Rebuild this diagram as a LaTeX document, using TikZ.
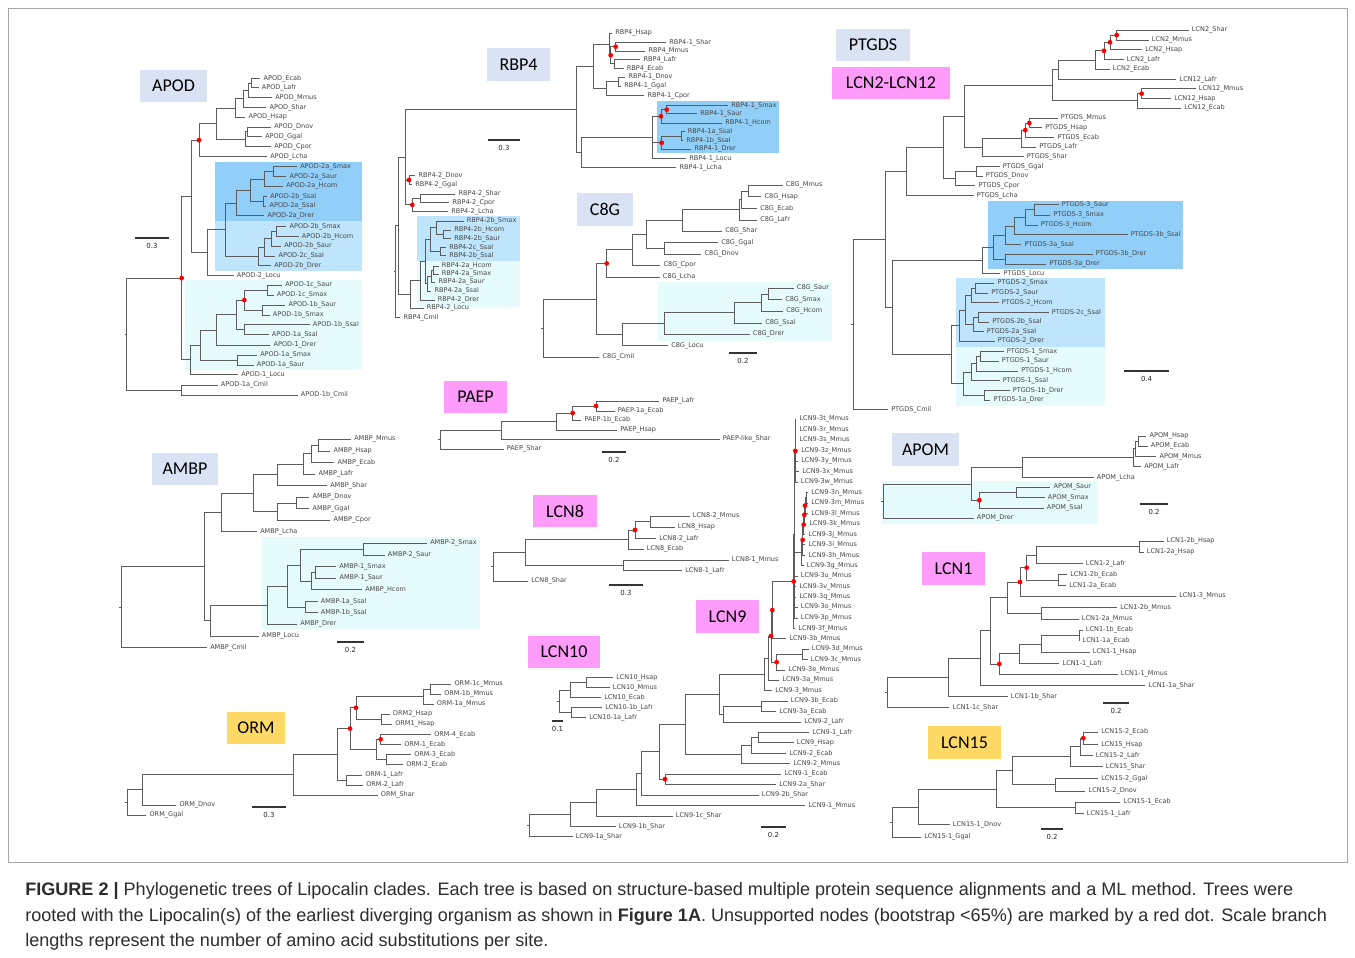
\documentclass[tikz,border=0pt]{standalone}
\usepackage{fontspec}
\setmainfont{Liberation Sans}
\newfontfamily\labfont{DejaVu Sans}
\newfontfamily\titfont{Carlito}
\usetikzlibrary{calc}
\definecolor{brc}{RGB}{92,92,92}
\definecolor{labc}{RGB}{70,70,70}
\definecolor{tblue}{RGB}{218,227,243}
\definecolor{tpink}{RGB}{255,155,250}
\definecolor{tyel}{RGB}{255,217,102}
\definecolor{hdark}{RGB}{145,207,248}
\definecolor{hmid}{RGB}{190,229,251}
\definecolor{hcyan}{RGB}{230,251,251}
\definecolor{capc}{RGB}{45,45,45}
\tikzset{
 lab/.style={anchor=west,inner sep=0pt,font=\labfont\fontsize{4.9}{5.5}\selectfont,text=labc},
 brn/.style={draw=brc,line width=0.55pt},
 rdot/.style={circle,fill=red,inner sep=0pt,minimum size=3.6pt},
 tit/.style={inner sep=0pt,font=\titfont\fontsize{13.5}{15}\selectfont,text=black},
 sbar/.style={draw=black!80,line width=0.9pt},
 sbt/.style={inner sep=0pt,font=\labfont\fontsize{5.2}{6}\selectfont,text=black!85},
 captext/.style={anchor=base west,inner sep=0pt,font=\fontsize{13.55}{15}\selectfont,text=capc}
}
\newcommand\LF[4]{\coordinate (#1) at ({#2-9},#3); \node[lab] (#1t) at (#2,#3) {#4};}
\newcommand\ND[3]{%
 \foreach \chn [count=\cnt] in {#3}{\ifnum\cnt=1 \xdef\ndfirst{\chn}\fi\xdef\ndlast{\chn}}%
 \coordinate (ndtmp) at ($(\ndfirst)!0.5!(\ndlast)$);%
 \coordinate (#1) at (#2,0 |- ndtmp);%
 \foreach \chn in {#3}{\draw[brn] (#1) |- (\chn);}}
\newcommand\RD[1]{\node[rdot] (#1d) at (#1) {};}
\newcommand\ST[1]{\draw[brn] (#1) -- ++(-6,0);}
\newcommand\TB[7]{\fill[#6] (#2,#3) rectangle (#4,#5); \node[tit] (#1) at ($(#2,#3)!0.5!(#4,#5)$) {#7};}
\newcommand\SB[5]{\coordinate (#1a) at (#2,#4); \coordinate (#1b) at (#3,#4); \draw[sbar] (#1a) -- (#1b); \node[sbt] (#1) at ({(#2+#3)/2},{#4+8}) {#5};}
\begin{document}
\begin{tikzpicture}[x=0.75pt,y=-0.75pt]
\useasboundingbox (0,0) rectangle (1355,957);
\fill[white] (0,0) rectangle (1355,957);
\draw[black!35,line width=0.5pt] (8,8) rectangle (1347,862);

% ---------------- APOD
\begin{scope}[shift={(130,65)},scale=1/3]
\fill[hdark] (255,290) rectangle (697,468);
\fill[hmid] (255,468) rectangle (697,617);
\fill[hcyan] (165,645) rectangle (697,915);
\LF{ap1}{400}{40}{APOD\_Ecab}
\LF{ap2}{395}{68}{APOD\_Lafr}
\LF{ap3}{435}{98}{APOD\_Mmus}
\LF{ap4}{418}{127}{APOD\_Shar}
\LF{ap5}{355}{157}{APOD\_Hsap}
\LF{ap6}{432}{186}{APOD\_Dnov}
\LF{ap7}{405}{215}{APOD\_Ggal}
\LF{ap8}{432}{245}{APOD\_Cpor}
\LF{ap9}{420}{275}{APOD\_Lcha}
\LF{ap10}{510}{305}{APOD-2a\_Smax}
\LF{ap11}{478}{335}{APOD-2a\_Saur}
\LF{ap12}{468}{364}{APOD-2a\_Hcom}
\LF{ap13}{420}{394}{APOD-2b\_Ssal}
\LF{ap14}{418}{423}{APOD-2a\_Ssal}
\LF{ap15}{412}{452}{APOD-2a\_Drer}
\LF{ap16}{478}{485}{APOD-2b\_Smax}
\LF{ap17}{515}{514}{APOD-2b\_Hcom}
\LF{ap18}{462}{543}{APOD-2b\_Saur}
\LF{ap19}{445}{573}{APOD-2c\_Ssal}
\LF{ap20}{432}{602}{APOD-2b\_Drer}
\LF{ap21}{320}{632}{APOD-2\_Locu}
\LF{ap22}{465}{660}{APOD-1c\_Saur}
\LF{ap23}{440}{691}{APOD-1c\_Smax}
\LF{ap24}{475}{720}{APOD-1b\_Saur}
\LF{ap25}{428}{750}{APOD-1b\_Smax}
\LF{ap26}{548}{779}{APOD-1b\_Ssal}
\LF{ap27}{425}{809}{APOD-1a\_Ssal}
\LF{ap28}{430}{840}{APOD-1\_Drer}
\LF{ap29}{390}{870}{APOD-1a\_Smax}
\LF{ap30}{380}{900}{APOD-1a\_Saur}
\LF{ap31}{333}{929}{APOD-1\_Locu}
\LF{ap32}{272}{960}{APOD-1a\_Cmil}
\LF{ap33}{512}{990}{APOD-1b\_Cmil}
\ND{apa}{365}{ap1,ap2}
\ND{apb}{355}{apa,ap3}
\ND{apc}{340}{apb,ap4}
\ND{apd}{315}{apc,ap5}
\ND{ape}{352}{ap6,ap7}
\ND{apf}{345}{ape,ap8}
\ND{apg}{260}{apd,apf}
\ND{aph}{207}{apg,ap9}
\ND{api}{430}{ap10,ap11}
\ND{apj}{403}{api,ap12}
\ND{apk}{400}{ap13,ap14}
\ND{apl}{360}{apj,apk}
\ND{apm}{318}{apl,ap15}
\ND{apn}{440}{ap16,ap17}
\ND{apo}{425}{apn,ap18}
\ND{app}{403}{apo,ap19}
\ND{apq}{385}{app,ap20}
\ND{apr}{285}{apm,apq}
\ND{aps}{232}{apr,ap21}
\ND{apt}{185}{aph,aps}
\ND{apu}{412}{ap22,ap23}
\ND{apv}{398}{ap24,ap25}
\ND{apw}{343}{apu,apv}
\ND{apx}{343}{ap26,ap27}
\ND{apy}{318}{apw,apx}
\ND{apz}{260}{apy,ap28}
\ND{apA}{323}{ap29,ap30}
\ND{apB}{210}{apz,apA}
\ND{apC}{180}{apB,ap31}
\ND{apD}{155}{apt,apC}
\ND{apE}{155}{ap32,ap33}
\ND{apR}{-10}{apD,apE}
\ST{apR}
\RD{aph}\RD{apw}\RD{apD}
\end{scope}
\TB{tAPOD}{140}{70}{207}{102}{tblue}{APOD}
\SB{sAPOD}{135}{169}{238}{0.3}

% ---------------- RBP4 (RBP4-1 part)
\begin{scope}[shift={(575,25)},scale=1/3]
\fill[hdark] (245,228) rectangle (612,385);
\LF{rb1}{120}{25}{RBP4\_Hsap}
\LF{rb2}{282}{52}{RBP4-1\_Shar}
\LF{rb3}{220}{78}{RBP4\_Mmus}
\LF{rb4}{205}{103}{RBP4\_Lafr}
\LF{rb5}{155}{130}{RBP4\_Ecab}
\LF{rb6}{160}{157}{RBP4-1\_Dnov}
\LF{rb7}{147}{183}{RBP4-1\_Ggal}
\LF{rb8}{217}{212}{RBP4-1\_Cpor}
\LF{rb9}{468}{242}{RBP4-1\_Smax}
\LF{rb10}{375}{266}{RBP4-1\_Saur}
\LF{rb11}{450}{294}{RBP4-1\_Hcom}
\LF{rb12}{338}{320}{RBP4-1a\_Ssal}
\LF{rb13}{333}{347}{RBP4-1b\_Ssal}
\LF{rb14}{358}{373}{RBP4-1\_Drer}
\LF{rb15}{342}{401}{RBP4-1\_Locu}
\LF{rb16}{313}{427}{RBP4-1\_Lcha}
\ND{rba}{122}{rb2,rb3}
\ND{rbb}{118}{rb4,rb5}
\ND{rbc}{107}{rba,rbb}
\ND{rbd}{103}{rb1,rbc}
\ND{rbe}{130}{rb6,rb7}
\ND{rbf}{95}{rbe,rb8}
\ND{rbg}{55}{rbd,rbf}
\ND{rbh}{275}{rb9,rb10}
\ND{rbi}{258}{rbh,rb11}
\ND{rbj}{318}{rb12,rb13}
\ND{rbk}{260}{rbj,rb14}
\ND{rbl}{232}{rbi,rbk,rb15}
\ND{rbm}{20}{rbl,rb16}
\ND{rbn}{5}{rbg,rbm}
\RD{rba}\RD{rbc}\RD{rbh}\RD{rbi}\RD{rbk}
\end{scope}
% ---------------- RBP4 (RBP4-2 part)
\begin{scope}[shift={(395,160)},scale=1/3]
\fill[hmid] (65,168) rectangle (375,302);
\fill[hcyan] (65,302) rectangle (375,440);
\LF{rc1}{70}{47}{RBP4-2\_Dnov}
\LF{rc2}{60}{73}{RBP4-2\_Ggal}
\LF{rc3}{190}{102}{RBP4-2\_Shar}
\LF{rc4}{172}{128}{RBP4-2\_Cpor}
\LF{rc5}{168}{154}{RBP4-2\_Lcha}
\LF{rc6}{215}{183}{RBP4-2b\_Smax}
\LF{rc7}{177}{210}{RBP4-2b\_Hcom}
\LF{rc8}{177}{236}{RBP4-2b\_Saur}
\LF{rc9}{162}{262}{RBP4-2c\_Ssal}
\LF{rc10}{162}{287}{RBP4-2b\_Ssal}
\LF{rc11}{140}{318}{RBP4-2a\_Hcom}
\LF{rc12}{140}{342}{RBP4-2a\_Smax}
\LF{rc13}{130}{367}{RBP4-2a\_Saur}
\LF{rc14}{118}{393}{RBP4-2a\_Ssal}
\LF{rc15}{128}{420}{RBP4-2\_Drer}
\LF{rc16}{95}{444}{RBP4-2\_Locu}
\LF{rc17}{25}{473}{RBP4\_Cmil}
\ND{rca}{42}{rc1,rc2}
\ND{rcb}{75}{rc3,rc4}
\ND{rcc}{52}{rcb,rc5}
\ND{rcd}{145}{rc7,rc8}
\ND{rce}{125}{rc6,rcd}
\ND{rcf}{135}{rc9,rc10}
\ND{rcg}{105}{rce,rcf}
\ND{rch}{115}{rc11,rc12}
\ND{rci}{108}{rch,rc13}
\ND{rcj}{98}{rci,rc14}
\ND{rck}{90}{rcg,rcj}
\ND{rcl}{75}{rck,rc15}
\ND{rcm}{45}{rcl,rc16}
\ND{rcn}{30}{rbn,rca,rcc}
\ND{rco}{10}{rcn,rcm}
\ND{rcp}{2}{rco,rc17}
\ST{rcp}
\RD{rca}\RD{rcc}
\end{scope}
\TB{tRBP4}{487}{48}{550}{81}{tblue}{RBP4}
\SB{sRBP4}{488}{520}{140}{0.3}

% ---------------- PTGDS / LCN2-LCN12
\begin{scope}[shift={(840,20)},scale=1/3]
\fill[hdark] (445,542) rectangle (1030,748);
\fill[hmid] (348,773) rectangle (795,980);
\fill[hcyan] (348,980) rectangle (795,1157);
\LF{pt1}{1055}{30}{LCN2\_Shar}
\LF{pt2}{935}{60}{LCN2\_Mmus}
\LF{pt3}{915}{89}{LCN2\_Hsap}
\LF{pt4}{860}{118}{LCN2\_Lafr}
\LF{pt5}{818}{147}{LCN2\_Ecab}
\LF{pt6}{1018}{178}{LCN12\_Lafr}
\LF{pt7}{1076}{206}{LCN12\_Mmus}
\LF{pt8}{1002}{236}{LCN12\_Hsap}
\LF{pt9}{1032}{264}{LCN12\_Ecab}
\LF{pt10}{662}{295}{PTGDS\_Mmus}
\LF{pt11}{615}{323}{PTGDS\_Hsap}
\LF{pt12}{652}{352}{PTGDS\_Ecab}
\LF{pt13}{597}{381}{PTGDS\_Lafr}
\LF{pt14}{560}{410}{PTGDS\_Shar}
\LF{pt15}{488}{440}{PTGDS\_Ggal}
\LF{pt16}{437}{468}{PTGDS\_Dnov}
\LF{pt17}{415}{497}{PTGDS\_Cpor}
\LF{pt18}{410}{527}{PTGDS\_Lcha}
\LF{pt19}{665}{554}{PTGDS-3\_Saur}
\LF{pt20}{640}{585}{PTGDS-3\_Smax}
\LF{pt21}{602}{615}{PTGDS-3\_Hcom}
\LF{pt22}{872}{644}{PTGDS-3b\_Ssal}
\LF{pt23}{553}{673}{PTGDS-3a\_Ssal}
\LF{pt24}{767}{702}{PTGDS-3b\_Drer}
\LF{pt25}{628}{732}{PTGDS-3a\_Drer}
\LF{pt26}{490}{761}{PTGDS\_Locu}
\LF{pt27}{472}{790}{PTGDS-2\_Smax}
\LF{pt28}{453}{819}{PTGDS-2\_Saur}
\LF{pt29}{485}{848}{PTGDS-2\_Hcom}
\LF{pt30}{635}{877}{PTGDS-2c\_Ssal}
\LF{pt31}{456}{906}{PTGDS-2b\_Ssal}
\LF{pt32}{440}{935}{PTGDS-2a\_Ssal}
\LF{pt33}{473}{964}{PTGDS-2\_Drer}
\LF{pt34}{500}{995}{PTGDS-1\_Smax}
\LF{pt35}{485}{1024}{PTGDS-1\_Saur}
\LF{pt36}{543}{1053}{PTGDS-1\_Hcom}
\LF{pt37}{488}{1082}{PTGDS-1\_Ssal}
\LF{pt38}{518}{1111}{PTGDS-1b\_Drer}
\LF{pt39}{460}{1140}{PTGDS-1a\_Drer}
\LF{pt40}{153}{1169}{PTGDS\_Cmil}
\ND{pta}{830}{pt1,pt2}
\ND{ptb}{810}{pta,pt3}
\ND{ptc}{792}{ptb,pt4}
\ND{ptd}{765}{ptc,pt5}
\ND{pte}{655}{ptd,pt6}
\ND{ptf}{905}{pt7,pt8}
\ND{ptg}{893}{ptf,pt9}
\ND{pth}{637}{pte,ptg}
\ND{pti}{568}{pt10,pt11}
\ND{ptj}{556}{pti,pt12}
\ND{ptk}{545}{ptj,pt13}
\ND{ptl}{428}{ptk,pt14}
\ND{ptm}{373}{pth,ptl}
\ND{ptn}{410}{pt15,pt16}
\ND{pto}{345}{ptn,pt17}
\ND{ptp}{310}{ptm,pto}
\ND{ptq}{200}{ptp,pt18}
\ND{ptr}{582}{pt19,pt20}
\ND{pts}{557}{ptr,pt21}
\ND{ptt}{522}{pts,pt22}
\ND{ptu}{497}{ptt,pt23}
\ND{ptv}{497}{pt24,pt25}
\ND{ptw}{460}{ptu,ptv}
\ND{ptx}{428}{ptw,pt26}
\ND{pty}{405}{pt27,pt28}
\ND{ptz}{393}{pty,pt29}
\ND{ptA}{415}{pt30,pt31}
\ND{ptB}{400}{ptA,pt32}
\ND{ptC}{375}{ptz,ptB}
\ND{ptD}{357}{ptC,pt33}
\ND{ptE}{420}{pt34,pt35}
\ND{ptF}{410}{ptE,pt36}
\ND{ptG}{395}{ptF,pt37}
\ND{ptH}{432}{pt38,pt39}
\ND{ptI}{370}{ptG,ptH}
\ND{ptJ}{333}{ptD,ptI}
\ND{ptK}{157}{ptx,ptJ}
\ND{ptL}{137}{ptq,ptK}
\ND{ptM}{40}{ptL,pt40}
\ST{ptM}
\RD{pta}\RD{ptb}\RD{ptc}\RD{ptf}\RD{pti}\RD{ptj}
\end{scope}
\TB{tPTGDS}{836}{29}{910}{61}{tblue}{PTGDS}
\TB{tLCN2}{832}{67}{950}{99}{tpink}{LCN2-LCN12}
\SB{sPTGDS}{1124}{1169}{371}{0.4}

% ---------------- C8G
\begin{scope}[shift={(540,180)},scale=1/3]
\fill[hcyan] (355,307) rectangle (875,483);
\LF{cg1}{737}{16}{C8G\_Mmus}
\LF{cg2}{673}{50}{C8G\_Hsap}
\LF{cg3}{660}{85}{C8G\_Ecab}
\LF{cg4}{660}{120}{C8G\_Lafr}
\LF{cg5}{555}{153}{C8G\_Shar}
\LF{cg6}{543}{188}{C8G\_Ggal}
\LF{cg7}{493}{222}{C8G\_Dnov}
\LF{cg8}{370}{256}{C8G\_Cpor}
\LF{cg9}{368}{291}{C8G\_Lcha}
\LF{cg10}{770}{325}{C8G\_Saur}
\LF{cg11}{735}{359}{C8G\_Smax}
\LF{cg12}{738}{394}{C8G\_Hcom}
\LF{cg13}{675}{429}{C8G\_Ssal}
\LF{cg14}{638}{463}{C8G\_Drer}
\LF{cg15}{393}{497}{C8G\_Locu}
\LF{cg16}{187}{531}{C8G\_Cmil}
\ND{cga}{625}{cg1,cg2}
\ND{cgb}{603}{cga,cg3}
\ND{cgc}{597}{cgb,cg4}
\ND{cgd}{428}{cgc,cg5}
\ND{cge}{373}{cg6,cg7}
\ND{cgf}{318}{cgd,cge}
\ND{cgg}{278}{cgf,cg8}
\ND{cgh}{200}{cgg,cg9}
\ND{cgi}{685}{cg10,cg11}
\ND{cgj}{665}{cgi,cg12}
\ND{cgk}{583}{cgj,cg13}
\ND{cgl}{372}{cgk,cg14}
\ND{cgm}{247}{cgl,cg15}
\ND{cgn}{170}{cgh,cgm}
\ND{cgo}{10}{cgn,cg16}
\ST{cgo}
\RD{cgh}
\end{scope}
\TB{tC8G}{577}{193}{633}{226}{tblue}{C8G}
\SB{sC8G}{729}{757}{353}{0.2}

% ---------------- AMBP
\begin{scope}[shift={(130,390)},scale=1/3]
\fill[hcyan] (395,442) rectangle (1050,718);
\LF{am1}{672}{148}{AMBP\_Mmus}
\LF{am2}{610}{183}{AMBP\_Hsap}
\LF{am3}{622}{217}{AMBP\_Ecab}
\LF{am4}{565}{252}{AMBP\_Lafr}
\LF{am5}{600}{287}{AMBP\_Shar}
\LF{am6}{547}{322}{AMBP\_Dnov}
\LF{am7}{547}{356}{AMBP\_Ggal}
\LF{am8}{610}{390}{AMBP\_Cpor}
\LF{am9}{390}{425}{AMBP\_Lcha}
\LF{am10}{900}{460}{AMBP-2\_Smax}
\LF{am11}{773}{495}{AMBP-2\_Saur}
\LF{am12}{627}{530}{AMBP-1\_Smax}
\LF{am13}{628}{565}{AMBP-1\_Saur}
\LF{am14}{705}{599}{AMBP\_Hcom}
\LF{am15}{572}{634}{AMBP-1a\_Ssal}
\LF{am16}{572}{668}{AMBP-1b\_Ssal}
\LF{am17}{510}{703}{AMBP\_Drer}
\LF{am18}{395}{738}{AMBP\_Locu}
\LF{am19}{240}{772}{AMBP\_Cmil}
\ND{ama}{565}{am1,am2}
\ND{amb}{543}{ama,am3}
\ND{amc}{520}{amb,am4}
\ND{amd}{443}{amc,am5}
\ND{ame}{500}{am6,am7}
\ND{amf}{443}{ame,am8}
\ND{amg}{370}{amd,amf}
\ND{amh}{275}{amg,am9}
\ND{ami}{700}{am10,am11}
\ND{amj}{557}{am12,am13}
\ND{amk}{543}{amj,am14}
\ND{aml}{510}{ami,amk}
\ND{amm}{527}{am15,am16}
\ND{amn}{473}{aml,amm}
\ND{amo}{413}{amn,am17}
\ND{amp}{240}{amo,am18}
\ND{amq}{222}{amh,amp}
\ND{amr}{-27}{amq,am19}
\ST{amr}
\end{scope}
\TB{tAMBP}{152}{453}{218}{485}{tblue}{AMBP}
\SB{sAMBP}{337}{364}{642}{0.2}

% ---------------- PAEP
\begin{scope}[shift={(430,390)},scale=1/3]
\LF{pa1}{697}{33}{PAEP\_Lafr}
\LF{pa2}{563}{63}{PAEP-1a\_Ecab}
\LF{pa3}{463}{90}{PAEP-1b\_Ecab}
\LF{pa4}{570}{120}{PAEP\_Hsap}
\LF{pa5}{878}{147}{PAEP-like\_Shar}
\LF{pa6}{230}{177}{PAEP\_Shar}
\ND{paa}{498}{pa1,pa2}
\ND{pab}{428}{paa,pa3}
\ND{pac}{378}{pab,pa4}
\ND{pad}{215}{pac,pa5}
\ND{pae}{30}{pad,pa6}
\ST{pae}
\RD{paa}\RD{pab}
\end{scope}
\TB{tPAEP}{444}{381}{507}{413}{tpink}{PAEP}
\SB{sPAEP}{602}{626}{452}{0.2}

% ---------------- LCN8 and LCN10
\begin{scope}[shift={(490,500)},scale=1/3]
\LF{e1}{608}{48}{LCN8-2\_Mmus}
\LF{e2}{563}{82}{LCN8\_Hsap}
\LF{e3}{507}{115}{LCN8-2\_Lafr}
\LF{e4}{470}{147}{LCN8\_Ecab}
\LF{e5}{725}{180}{LCN8-1\_Mmus}
\LF{e6}{585}{212}{LCN8-1\_Lafr}
\LF{e7}{123}{243}{LCN8\_Shar}
\ND{ea}{482}{e1,e2}
\ND{eb}{435}{ea,e3}
\ND{ec}{415}{eb,e4}
\ND{ed}{400}{e5,e6}
\ND{ee}{107}{ec,ed}
\ND{ef}{10}{ee,e7}
\ST{ef}
\RD{eb}
\LF{t1}{378}{533}{LCN10\_Hsap}
\LF{t2}{368}{563}{LCN10\_Mmus}
\LF{t3}{342}{593}{LCN10\_Ecab}
\LF{t4}{345}{622}{LCN10-1b\_Lafr}
\LF{t5}{297}{652}{LCN10-1a\_Lafr}
\ND{ta}{288}{t1,t2}
\ND{tb}{242}{ta,t3}
\ND{tc}{245}{t4,t5}
\ND{td}{207}{tb,tc}
\ST{td}
\end{scope}
\TB{tLCN8}{533}{495}{597}{527}{tpink}{LCN8}
\SB{sLCN8}{609}{643}{585}{0.3}
\TB{tLCN10}{528}{636}{600}{668}{tpink}{LCN10}
\SB{sLCN10}{552}{563}{721}{0.1}

% ---------------- LCN9
\begin{scope}[shift={(520,410)},scale=1/3]
\LF{l9a}{838}{28}{LCN9-3t\_Mmus}
\LF{l9b}{838}{60}{LCN9-3r\_Mmus}
\LF{l9c}{838}{91}{LCN9-3s\_Mmus}
\LF{l9d}{843}{122}{LCN9-3z\_Mmus}
\LF{l9e}{843}{154}{LCN9-3y\_Mmus}
\LF{l9f}{847}{185}{LCN9-3x\_Mmus}
\LF{l9g}{842}{217}{LCN9-3w\_Mmus}
\LF{l9h}{873}{248}{LCN9-3n\_Mmus}
\LF{l9i}{873}{279}{LCN9-3m\_Mmus}
\LF{l9j}{873}{310}{LCN9-3l\_Mmus}
\LF{l9k}{868}{342}{LCN9-3k\_Mmus}
\LF{l9l}{865}{373}{LCN9-3j\_Mmus}
\LF{l9m}{865}{404}{LCN9-3i\_Mmus}
\LF{l9n}{865}{436}{LCN9-3h\_Mmus}
\LF{l9o}{860}{467}{LCN9-3g\_Mmus}
\LF{l9p}{842}{498}{LCN9-3u\_Mmus}
\LF{l9q}{838}{530}{LCN9-3v\_Mmus}
\LF{l9r}{838}{561}{LCN9-3q\_Mmus}
\LF{l9s}{842}{592}{LCN9-3o\_Mmus}
\LF{l9t}{842}{624}{LCN9-3p\_Mmus}
\LF{l9u}{835}{655}{LCN9-3f\_Mmus}
\LF{l9v}{808}{686}{LCN9-3b\_Mmus}
\LF{l9w}{875}{717}{LCN9-3d\_Mmus}
\LF{l9x}{872}{749}{LCN9-3c\_Mmus}
\LF{l9y}{805}{780}{LCN9-3e\_Mmus}
\LF{l9z}{787}{811}{LCN9-3a\_Mmus}
\LF{l9A}{765}{842}{LCN9-3\_Mmus}
\LF{l9B}{812}{873}{LCN9-3b\_Ecab}
\LF{l9C}{778}{905}{LCN9-3a\_Ecab}
\LF{l9D}{852}{936}{LCN9-2\_Lafr}
\LF{l9E}{877}{967}{LCN9-1\_Lafr}
\LF{l9F}{830}{998}{LCN9\_Hsap}
\LF{l9G}{808}{1030}{LCN9-2\_Ecab}
\LF{l9H}{820}{1061}{LCN9-2\_Mmus}
\LF{l9I}{793}{1092}{LCN9-1\_Ecab}
\LF{l9J}{777}{1123}{LCN9-2a\_Shar}
\LF{l9K}{725}{1155}{LCN9-2b\_Shar}
\LF{l9L}{865}{1187}{LCN9-1\_Mmus}
\LF{l9M}{467}{1218}{LCN9-1c\_Shar}
\LF{l9N}{296}{1249}{LCN9-1b\_Shar}
\LF{l9O}{167}{1280}{LCN9-1a\_Shar}
\ND{l9na}{826}{l9a,l9b,l9c,l9d,l9e,l9f,l9g}
\ND{l9nb}{858}{l9h,l9i}
\ND{l9nc}{855}{l9nb,l9j}
\ND{l9nd}{853}{l9nc,l9k}
\ND{l9ne}{851}{l9nd,l9l}
\ND{l9nf}{848}{l9ne,l9m,l9n}
\ND{l9ng}{845}{l9nf,l9o}
\ND{l9nh}{824}{l9na,l9ng,l9p,l9q,l9r,l9s,l9t}
\ND{l9ni}{821}{l9nh,l9u}
\ND{l9nj}{757}{l9ni,l9v}
\ND{l9nk}{848}{l9w,l9x}
\ND{l9nl}{770}{l9nk,l9y}
\ND{l9nm}{753}{l9nj,l9nl}
\ND{l9nn}{745}{l9nm,l9z}
\ND{l9no}{733}{l9nn,l9A}
\ND{l9np}{723}{l9B,l9C}
\ND{l9nq}{610}{l9np,l9D}
\ND{l9nr}{597}{l9no,l9nq}
\ND{l9ns}{715}{l9E,l9F}
\ND{l9nt}{693}{l9ns,l9G}
\ND{l9nu}{665}{l9nt,l9H}
\ND{l9nv}{497}{l9nr,l9nu}
\ND{l9nw}{435}{l9I,l9J}
\ND{l9nx}{418}{l9nv,l9nw}
\ND{l9ny}{363}{l9nx,l9K}
\ND{l9nz}{350}{l9ny,l9L}
\ND{l9nA}{228}{l9nz,l9M}
\ND{l9nB}{150}{l9nA,l9N}
\ND{l9nC}{28}{l9nB,l9O}
\ST{l9nC}
\RD{l9na}\RD{l9nc}\RD{l9nd}\RD{l9ne}\RD{l9nf}\RD{l9ni}\RD{l9nj}\RD{l9nl}\RD{l9nm}\RD{l9nw}
\end{scope}
\TB{tLCN9}{696}{600}{759}{633}{tpink}{LCN9}
\SB{sLCN9}{761}{786}{827}{0.2}

% ---------------- APOM and LCN1
\begin{scope}[shift={(880,430)},scale=1/3]
\fill[hcyan] (5,152) rectangle (653,283);
\LF{m1}{808}{18}{APOM\_Hsap}
\LF{m2}{812}{48}{APOM\_Ecab}
\LF{m3}{838}{80}{APOM\_Mmus}
\LF{m4}{792}{110}{APOM\_Lafr}
\LF{m5}{650}{142}{APOM\_Lcha}
\LF{m6}{520}{172}{APOM\_Saur}
\LF{m7}{503}{203}{APOM\_Smax}
\LF{m8}{500}{234}{APOM\_Ssal}
\LF{m9}{290}{265}{APOM\_Drer}
\ND{ma}{775}{m1,m2}
\ND{mb}{767}{ma,m3}
\ND{mc}{760}{mb,m4}
\ND{md}{428}{mc,m5}
\ND{me}{408}{m6,m7}
\ND{mf}{298}{me,m8}
\ND{mg}{275}{md,mf}
\ND{mh}{10}{mg,m9}
\ST{mh}
\RD{mf}
\LF{n1}{860}{333}{LCN1-2b\_Hsap}
\LF{n2}{800}{367}{LCN1-2a\_Hsap}
\LF{n3}{617}{401}{LCN1-2\_Lafr}
\LF{n4}{570}{434}{LCN1-2b\_Ecab}
\LF{n5}{567}{467}{LCN1-2a\_Ecab}
\LF{n6}{897}{499}{LCN1-3\_Mmus}
\LF{n7}{720}{533}{LCN1-2b\_Mmus}
\LF{n8}{605}{567}{LCN1-2a\_Mmus}
\LF{n9}{617}{600}{LCN1-1b\_Ecab}
\LF{n10}{607}{633}{LCN1-1a\_Ecab}
\LF{n11}{638}{667}{LCN1-1\_Hsap}
\LF{n12}{547}{700}{LCN1-1\_Lafr}
\LF{n13}{722}{733}{LCN1-1\_Mmus}
\LF{n14}{805}{767}{LCN1-1a\_Shar}
\LF{n15}{392}{800}{LCN1-1b\_Shar}
\LF{n16}{217}{833}{LCN1-1c\_Shar}
\ND{na}{778}{n1,n2}
\ND{nb}{470}{na,n3}
\ND{nc}{535}{n4,n5}
\ND{nd}{440}{nb,nc}
\ND{ne}{420}{nd,n6}
\ND{nf}{485}{n7,n8}
\ND{ng}{382}{ne,nf}
\ND{nh}{598}{n9,n10}
\ND{ni}{485}{nh,n11}
\ND{nj}{418}{ni,n12}
\ND{nk}{358}{nj,n13}
\ND{nl}{330}{ng,nk}
\ND{nm}{300}{nl,n14}
\ND{nn}{205}{nm,n15}
\ND{no}{22}{nn,n16}
\ST{no}
\RD{nd}\RD{ne}\RD{nk}
\end{scope}
\TB{tAPOM}{892}{433}{959}{466}{tblue}{APOM}
\SB{sAPOM}{1140}{1168}{504}{0.2}
\TB{tLCN1}{922}{552}{985}{585}{tpink}{LCN1}
\SB{sLCN1}{1103}{1129}{703}{0.2}

% ---------------- ORM
\begin{scope}[shift={(120,670)},scale=1/3]
\LF{o1}{1003}{42}{ORM-1c\_Mmus}
\LF{o2}{972}{72}{ORM-1b\_Mmus}
\LF{o3}{950}{102}{ORM-1a\_Mmus}
\LF{o4}{818}{132}{ORM2\_Hsap}
\LF{o5}{825}{162}{ORM1\_Hsap}
\LF{o6}{942}{193}{ORM-4\_Ecab}
\LF{o7}{852}{223}{ORM-1\_Ecab}
\LF{o8}{882}{253}{ORM-3\_Ecab}
\LF{o9}{858}{283}{ORM-2\_Ecab}
\LF{o10}{735}{315}{ORM-1\_Lafr}
\LF{o11}{738}{345}{ORM-2\_Lafr}
\LF{o12}{782}{375}{ORM\_Shar}
\LF{o13}{178}{405}{ORM\_Dnov}
\LF{o14}{88}{435}{ORM\_Ggal}
\ND{oa}{932}{o1,o2}
\ND{ob}{910}{oa,o3}
\ND{oc}{783}{o4,o5}
\ND{od}{708}{ob,oc}
\ND{oe}{782}{o6,o7}
\ND{of}{800}{o8,o9}
\ND{og}{768}{oe,of}
\ND{oh}{690}{od,og}
\ND{oi}{680}{o10,o11}
\ND{oj}{652}{oh,oi}
\ND{ok}{520}{oj,o12}
\ND{ol}{68}{ok,o13}
\ND{om}{22}{ol,o14}
\ST{om}
\RD{od}\RD{oe}\RD{oh}
\end{scope}
\TB{tORM}{227}{712}{285}{744}{tyel}{ORM}
\SB{sORM}{252}{286}{807}{0.3}

% ---------------- LCN15
\begin{scope}[shift={(885,722)},scale=1/3]
\LF{f1}{648}{30}{LCN15-2\_Ecab}
\LF{f2}{648}{67}{LCN15\_Hsap}
\LF{f3}{632}{100}{LCN15-2\_Lafr}
\LF{f4}{662}{133}{LCN15\_Shar}
\LF{f5}{648}{170}{LCN15-2\_Ggal}
\LF{f6}{610}{207}{LCN15-2\_Dnov}
\LF{f7}{715}{240}{LCN15-1\_Ecab}
\LF{f8}{605}{275}{LCN15-1\_Lafr}
\LF{f9}{203}{308}{LCN15-1\_Dnov}
\LF{f10}{117}{345}{LCN15-1\_Ggal}
\ND{fa}{595}{f1,f2}
\ND{fb}{587}{fa,f3}
\ND{fc}{557}{fb,f4}
\ND{fd}{512}{f5,f6}
\ND{fe}{383}{fc,fd}
\ND{ff}{570}{f7,f8}
\ND{fg}{333}{fe,ff}
\ND{fh}{100}{fg,f9}
\ND{fi}{22}{fh,f10}
\ST{fi}
\RD{fa}
\end{scope}
\TB{tLCN15}{928}{726}{1001}{759}{tyel}{LCN15}
\SB{sLCN15}{1041}{1063}{829}{0.2}

% ---------------- caption
\node[captext] (cap1) at (25,895) {\textbf{FIGURE 2 |} Phylogenetic trees of Lipocalin clades. Each tree is based on structure-based multiple protein sequence alignments and a ML method. Trees were};
\node[captext] (cap2) at (25,921) {rooted with the Lipocalin(s) of the earliest diverging organism as shown in \textbf{Figure 1A}. Unsupported nodes (bootstrap <65\%) are marked by a red dot. Scale branch};
\node[captext] (cap3) at (25,946) {lengths represent the number of amino acid substitutions per site.};
\end{tikzpicture}
\end{document}
